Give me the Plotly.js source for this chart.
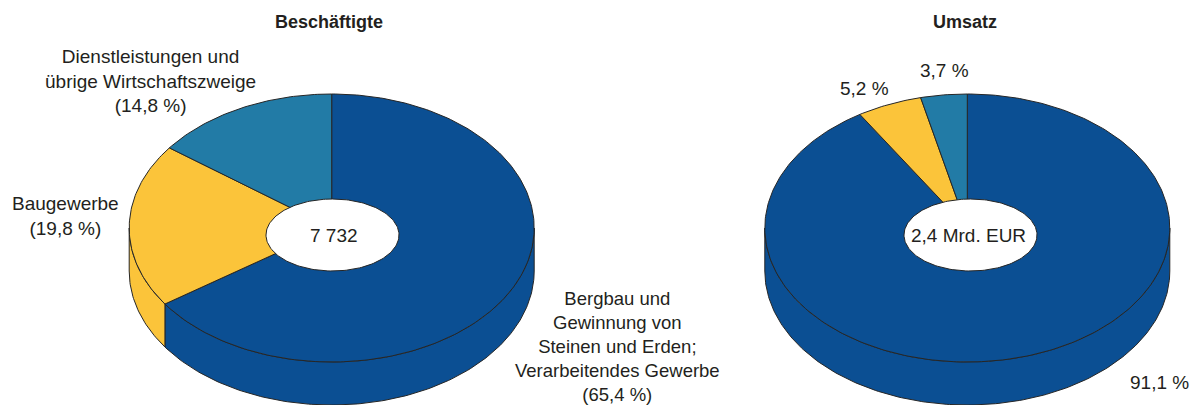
<!DOCTYPE html>
<html>
<head>
<meta charset="utf-8">
<script src="https://cdn.plot.ly/plotly-3.0.1.min.js"></script>
<style>html,body{margin:0;padding:0;background:#fff;}#chart{width:1197px;height:405px;}</style>
</head>
<body>
<div id="chart"></div>
<script>
// ---- data ----
const categories = [
  'Bergbau und Gewinnung von Steinen und Erden; Verarbeitendes Gewerbe',
  'Baugewerbe',
  'Dienstleistungen und übrige Wirtschaftszweige'
];
const beschaeftigteShares = [65.4, 19.8, 14.8];
const umsatzShares = [91.1, 5.2, 3.7];
const chartTitles = ['Beschäftigte', 'Umsatz'];
const centerTexts = ['7 732', '2,4 Mrd. EUR'];
const beschaeftigteLabels = [
  'Bergbau und<br>Gewinnung von<br>Steinen und Erden;<br>Verarbeitendes Gewerbe<br>(65,4 %)',
  'Baugewerbe<br>(19,8 %)',
  'Dienstleistungen und<br>übrige Wirtschaftszweige<br>(14,8 %)'
];
const umsatzLabels = ['91,1 %', '5,2 %', '3,7 %'];

// ---- style / geometry ----
const COLORS = ['#0b4f93', '#fbc43a', '#227ba6'];
const EDGE = '#262626';
const FONT = 'Liberation Sans, Arial, sans-serif';
const TXT = '#231f20';
const pies = [
  {cx: 331.7, cy: 228, rx: 202.5, ry: 134, depth: 43, hx: 332.5, hy: 235, hrx: 66.5, hry: 36},
  {cx: 967.3, cy: 228, rx: 202.5, ry: 134, depth: 43, hx: 970.5, hy: 235, hrx: 66.5, hry: 36}
];

function pt(c, deg, dy) {
  const t = deg * Math.PI / 180;
  return [c.cx + c.rx * Math.sin(t), c.cy - c.ry * Math.cos(t) + dy];
}
function arc(c, a, b, dy) {
  const n = Math.max(2, Math.ceil(Math.abs(b - a)));
  const out = [];
  for (let i = 0; i <= n; i++) out.push(pt(c, a + (b - a) * i / n, dy));
  return out;
}
function poly(pts, fill) {
  return {
    type: 'scatter', mode: 'lines', fill: 'toself', fillcolor: fill,
    x: pts.map(p => p[0]), y: pts.map(p => p[1]),
    line: {color: EDGE, width: 1}, hoverinfo: 'skip', showlegend: false
  };
}
function pieTraces(c, shares) {
  const total = shares.reduce((s, v) => s + v, 0);
  let cum = 0;
  const angles = shares.map(v => { const a = cum / total * 360; cum += v; return [a, cum / total * 360]; });
  const traces = [];
  // visible side walls (front half)
  angles.forEach(([a, b], i) => {
    const s = Math.max(a, 90), e = Math.min(b, 270);
    if (e > s) {
      const top = arc(c, s, e, 0);
      const bot = arc(c, e, s, c.depth);
      const pts = top.concat(bot); pts.push(top[0]);
      traces.push(poly(pts, COLORS[i]));
    }
  });
  // top surface wedges
  angles.forEach(([a, b], i) => {
    const pts = [[c.cx, c.cy]].concat(arc(c, a, b, 0));
    pts.push([c.cx, c.cy]);
    traces.push(poly(pts, COLORS[i]));
  });
  // hole
  const hole = [];
  for (let i = 0; i <= 180; i++) {
    const t = i * 2 * Math.PI / 180;
    hole.push([c.hx + c.hrx * Math.sin(t), c.hy - c.hry * Math.cos(t)]);
  }
  traces.push(poly(hole, '#ffffff'));
  return traces;
}

const data = pieTraces(pies[0], beschaeftigteShares).concat(pieTraces(pies[1], umsatzShares));

function ann(text, x, y, size, bold) {
  return {
    text: bold ? '<b>' + text + '</b>' : text, x: x, y: y, xref: 'x', yref: 'y',
    showarrow: false, xanchor: 'center', yanchor: 'middle', align: 'center',
    font: {family: FONT, size: size, color: TXT}
  };
}
const annotations = [
  ann(chartTitles[0], 329, 22, 18, true),
  ann(chartTitles[1], 965, 22, 18, true),
  ann(centerTexts[0], pies[0].hx + 1, pies[0].hy, 19),
  ann(centerTexts[1], pies[1].hx - 2, pies[1].hy, 19),
  ann(beschaeftigteLabels[0], 617, 346, 18.5),
  ann(beschaeftigteLabels[1], 65, 215.5, 19),
  ann(beschaeftigteLabels[2], 150, 81, 19),
  ann(umsatzLabels[0], 1159, 382, 19),
  ann(umsatzLabels[1], 864, 88, 19),
  ann(umsatzLabels[2], 944, 70, 19)
];

const layout = {
  width: 1197, height: 405,
  margin: {l: 0, r: 0, t: 0, b: 0},
  paper_bgcolor: '#ffffff', plot_bgcolor: '#ffffff',
  showlegend: false,
  xaxis: {range: [0, 1197], visible: false, fixedrange: true},
  yaxis: {range: [405, 0], visible: false, fixedrange: true},
  annotations: annotations
};
Plotly.newPlot('chart', data, layout, {displayModeBar: false, staticPlot: true});
</script>
</body>
</html>
